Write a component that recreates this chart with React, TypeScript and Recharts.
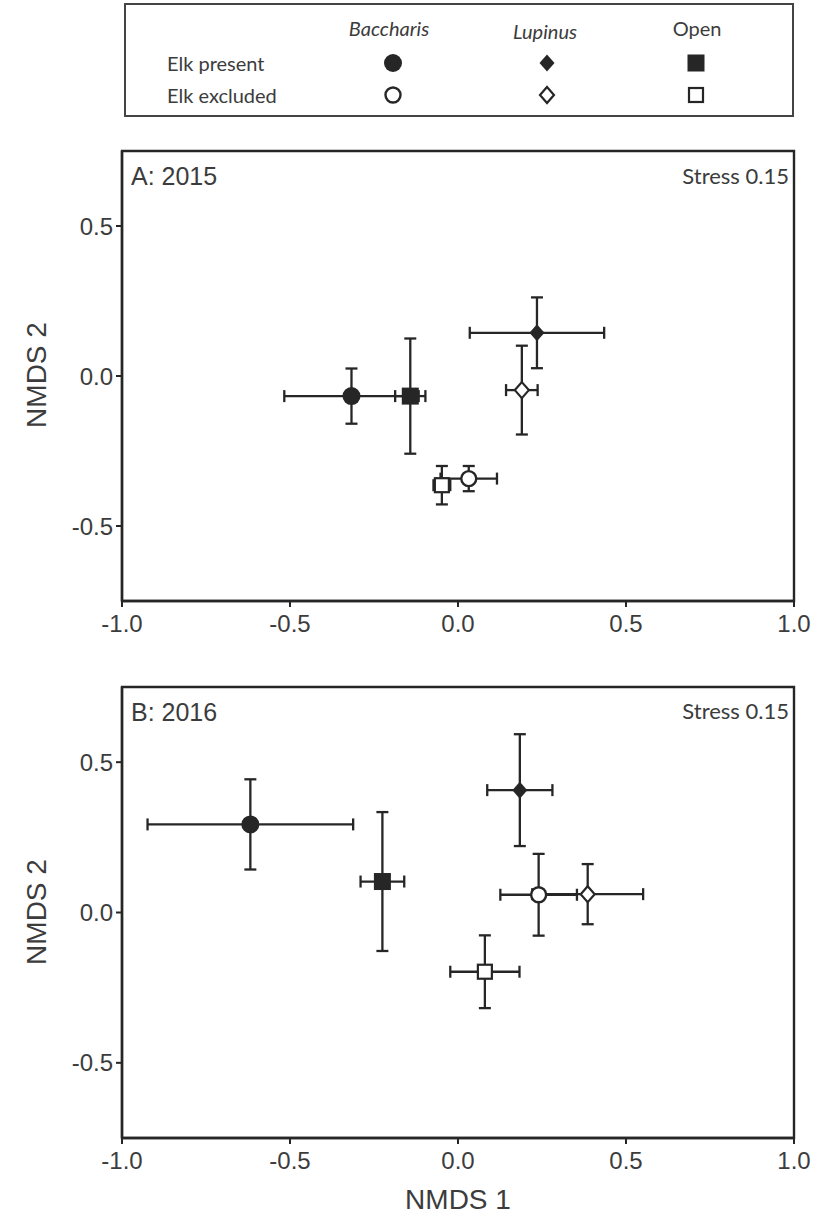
import { ScatterChart, Scatter, XAxis, YAxis, ErrorBar, ReferenceArea } from "recharts";

// order: Baccharis present, Lupinus present, Open present, Baccharis excluded, Lupinus excluded, Open excluded
const groups = ["bacP", "lupP", "openP", "bacE", "lupE", "openE"];

const x2015 = [-0.317, 0.235, -0.142, 0.032, 0.19, -0.048];
const y2015 = [-0.067, 0.144, -0.067, -0.342, -0.047, -0.364];
const xErr2015 = [0.2, 0.2, 0.045, 0.084, 0.047, 0.025];
const yErr2015 = [0.092, 0.118, 0.192, 0.042, 0.148, 0.064];

const x2016 = [-0.618, 0.184, -0.225, 0.24, 0.386, 0.08];
const y2016 = [0.293, 0.407, 0.103, 0.059, 0.061, -0.197];
const xErr2016 = [0.306, 0.097, 0.065, 0.114, 0.165, 0.103];
const yErr2016 = [0.15, 0.186, 0.231, 0.136, 0.1, 0.121];

const xTicks = [-1, -0.5, 0, 0.5, 1];
const yTicks = [-0.5, 0, 0.5];

const INK = "#262626";
const TEXT = "#3c3c3c";

function Marker({ kind, cx, cy }: { kind: string; cx: number; cy: number }) {
  switch (kind) {
    case "bacP":
      return <circle cx={cx} cy={cy} r={9} fill={INK} />;
    case "bacE":
      return <circle cx={cx} cy={cy} r={7.5} fill="#fff" stroke={INK} strokeWidth={2.4} />;
    case "lupP":
      return <polygon points={`${cx},${cy - 8.5} ${cx + 7.5},${cy} ${cx},${cy + 8.5} ${cx - 7.5},${cy}`} fill={INK} />;
    case "lupE":
      return (
        <polygon
          points={`${cx},${cy - 8} ${cx + 7},${cy} ${cx},${cy + 8} ${cx - 7},${cy}`}
          fill="#fff"
          stroke={INK}
          strokeWidth={2.2}
        />
      );
    case "openP":
      return <rect x={cx - 8.5} y={cy - 8.5} width={17} height={17} fill={INK} />;
    default:
      return <rect x={cx - 7} y={cy - 7} width={14} height={14} fill="#fff" stroke={INK} strokeWidth={2.2} />;
  }
}

function Panel(props: {
  top: number;
  height: number;
  marginTop: number;
  marginBottom: number;
  xs: number[];
  ys: number[];
  xErr: number[];
  yErr: number[];
}) {
  const { top, height, marginTop, marginBottom, xs, ys, xErr, yErr } = props;
  return (
    <div style={{ position: "absolute", left: 0, top, width: 819, height }}>
      <ScatterChart
        width={819}
        height={height}
        margin={{ top: marginTop, right: 25, bottom: marginBottom, left: 22 }}
      >
        <XAxis
          type="number"
          dataKey="x"
          domain={[-1, 1]}
          ticks={xTicks}
          allowDataOverflow
          tickFormatter={(v: number) => v.toFixed(1)}
          height={40}
          tickSize={6}
          tickMargin={8}
          axisLine={{ stroke: INK, strokeWidth: 2.4 }}
          tickLine={{ stroke: INK, strokeWidth: 2 }}
          tick={{ fill: TEXT, fontSize: 24, fontFamily: "Liberation Sans, Arial, sans-serif" }}
        />
        <YAxis
          type="number"
          dataKey="y"
          domain={[-0.75, 0.75]}
          ticks={yTicks}
          allowDataOverflow
          tickFormatter={(v: number) => v.toFixed(1)}
          width={100}
          tickSize={6}
          tickMargin={3}
          axisLine={{ stroke: INK, strokeWidth: 2.4 }}
          tickLine={{ stroke: INK, strokeWidth: 2 }}
          tick={{ fill: TEXT, fontSize: 24, fontFamily: "Liberation Sans, Arial, sans-serif" }}
        />
        <ReferenceArea x1={-1} x2={1} y1={-0.75} y2={0.75} fill="none" stroke={INK} strokeWidth={2.4} />
        {groups.map((g, i) => (
          <Scatter
            key={g}
            data={[{ x: xs[i], y: ys[i], ex: xErr[i], ey: yErr[i] }]}
            isAnimationActive={false}
            shape={(p: any) => <Marker kind={g} cx={p.cx} cy={p.cy} />}
          >
            <ErrorBar dataKey="ex" direction="x" width={6} stroke={INK} strokeWidth={2.3} />
            <ErrorBar dataKey="ey" direction="y" width={6} stroke={INK} strokeWidth={2.3} />
          </Scatter>
        ))}
      </ScatterChart>
    </div>
  );
}

const sansCal = "Lato, 'Open Sans', sans-serif";
const sansArial = "'Liberation Sans', Arial, sans-serif";

function LegendMark({ kind, left, top }: { kind: string; left: number; top: number }) {
  return (
    <svg style={{ position: "absolute", left: left - 12, top: top - 12 }} width={24} height={24}>
      <Marker kind={kind} cx={12} cy={12} />
    </svg>
  );
}

export default function App() {
  const txt = (s: string, style: any) => (
    <div style={{ position: "absolute", whiteSpace: "nowrap", color: TEXT, ...style }}>{s}</div>
  );
  return (
    <div style={{ position: "absolute", left: 0, top: 0, width: 819, height: 1224, background: "#fff" }}>
      {/* legend box */}
      <div
        style={{
          position: "absolute",
          left: 124,
          top: 3,
          width: 670,
          height: 114,
          boxSizing: "border-box",
          border: `2.5px solid #444`,
        }}
      />
      {txt("Baccharis", { left: 389, top: 28, transform: "translate(-50%,-50%)", fontStyle: "italic", fontSize: 20, fontFamily: sansCal })}
      {txt("Lupinus", { left: 545, top: 31, transform: "translate(-50%,-50%)", fontStyle: "italic", fontSize: 20, fontFamily: sansCal })}
      {txt("Open", { left: 697, top: 28, transform: "translate(-50%,-50%)", fontSize: 20, fontFamily: sansCal })}
      {txt("Elk present", { left: 167, top: 63, transform: "translateY(-50%)", fontSize: 20, fontFamily: sansCal })}
      {txt("Elk excluded", { left: 167, top: 95, transform: "translateY(-50%)", fontSize: 20, fontFamily: sansCal })}
      <LegendMark kind="bacP" left={393} top={63} />
      <LegendMark kind="lupP" left={547} top={63} />
      <LegendMark kind="openP" left={696} top={63} />
      <LegendMark kind="bacE" left={393} top={95} />
      <LegendMark kind="lupE" left={547} top={95} />
      <LegendMark kind="openE" left={696} top={95} />

      <Panel top={0} height={660} marginTop={151} marginBottom={19} xs={x2015} ys={y2015} xErr={xErr2015} yErr={yErr2015} />
      <Panel top={640} height={560} marginTop={47} marginBottom={22} xs={x2016} ys={y2016} xErr={xErr2016} yErr={yErr2016} />

      {txt("A: 2015", { left: 131, top: 176, transform: "translateY(-50%)", fontSize: 25, fontFamily: sansArial })}
      {txt("Stress 0.15", { right: 819 - 789, top: 175, transform: "translateY(-50%)", fontSize: 22, fontFamily: sansCal })}
      {txt("B: 2016", { left: 131, top: 712, transform: "translateY(-50%)", fontSize: 25, fontFamily: sansArial })}
      {txt("Stress 0.15", { right: 819 - 789, top: 710, transform: "translateY(-50%)", fontSize: 22, fontFamily: sansCal })}

      {txt("NMDS 2", { left: 37, top: 375, transform: "translate(-50%,-50%) rotate(-90deg)", fontSize: 28, fontFamily: sansArial })}
      {txt("NMDS 2", { left: 37, top: 912, transform: "translate(-50%,-50%) rotate(-90deg)", fontSize: 28, fontFamily: sansArial })}
      {txt("NMDS 1", { left: 458, top: 1200, transform: "translate(-50%,-50%)", fontSize: 28, fontFamily: sansArial })}
    </div>
  );
}
